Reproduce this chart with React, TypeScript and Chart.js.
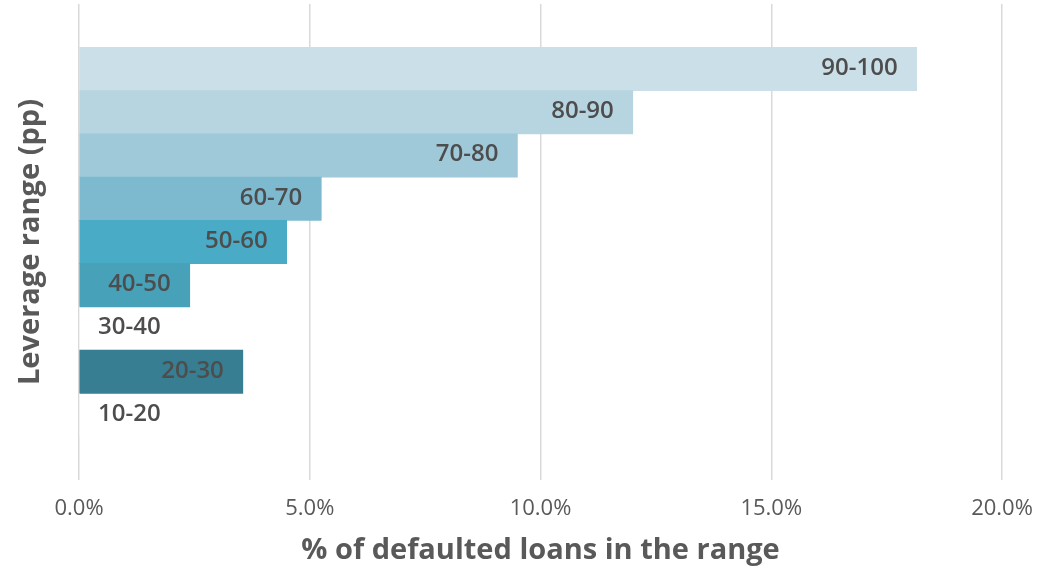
import React, { useEffect, useRef } from "react";
import { Chart, registerables } from "chart.js";

Chart.register(...registerables);

const categories = ["", "90-100", "80-90", "70-80", "60-70", "50-60", "40-50", "30-40", "20-30", "10-20", ""];
const defaultRates = [null, 18.15, 12.0, 9.5, 5.25, 4.5, 2.4, 0, 3.55, 0, null];
const barColors = ["#ffffff", "#cadfe7", "#b6d5e0", "#9fc8d8", "#7dbad0", "#4aabc6", "#46a1b9", "#ffffff", "#377e92", "#ffffff", "#ffffff"];
const xTicks = [0, 5, 10, 15, 20];
const xTitle = "% of defaulted loans in the range";
const yTitle = "Leverage range (pp)";

const FONT = "'Open Sans', 'Noto Sans', sans-serif";

const barLabelPlugin = {
  id: "barLabels",
  afterDatasetsDraw(chart: any) {
    const ctx = chart.ctx;
    const meta = chart.getDatasetMeta(0);
    const xScale = chart.scales.x;
    const base = xScale.getPixelForValue(0);
    ctx.save();
    ctx.font = `600 24px ${FONT}`;
    ctx.fillStyle = "#4d4d4d";
    ctx.textBaseline = "middle";
    meta.data.forEach((bar: any, i: number) => {
      const label = categories[i];
      const v = defaultRates[i];
      if (!label || v === null) return;
      const y = bar.y - 1;
      if (v > 0) {
        ctx.textAlign = "right";
        ctx.fillText(label, bar.x - 19, y);
      } else {
        ctx.textAlign = "left";
        ctx.fillText(label, base + 19, y);
      }
    });
    ctx.restore();
  },
};

export default function App() {
  const canvasRef = useRef<HTMLCanvasElement>(null);

  useEffect(() => {
    document.body.style.margin = "0";
    const canvas = canvasRef.current;
    if (!canvas) return;
    const chart = new Chart(canvas, {
      type: "bar",
      data: {
        labels: categories,
        datasets: [
          {
            data: defaultRates as any,
            backgroundColor: barColors,
            borderWidth: 0,
            categoryPercentage: 1,
            barPercentage: 1,
          },
        ],
      },
      options: {
        indexAxis: "y",
        animation: false,
        responsive: true,
        maintainAspectRatio: false,
        layout: { padding: { top: 4, right: 36, left: 0, bottom: 0 } },
        plugins: {
          legend: { display: false },
          tooltip: { enabled: false },
        },
        scales: {
          x: {
            min: 0,
            max: 20,
            afterFit: (s: any) => {
              s.height = 98;
            },
            afterBuildTicks: (s: any) => {
              s.ticks = xTicks.map((v) => ({ value: v }));
            },
            ticks: {
              padding: 0,
              color: "#595959",
              font: { family: FONT, size: 22, lineHeight: 2.59 },
              callback: (v: any) => Number(v).toFixed(1) + "%",
            },
            grid: { color: "#d9d9d9", lineWidth: 1.5, drawTicks: false },
            border: { display: false },
            title: {
              display: true,
              text: xTitle,
              color: "#595959",
              font: { family: FONT, size: 29, weight: "bold" },
              padding: { top: 0, bottom: 10 },
            },
          },
          y: {
            afterFit: (s: any) => {
              s.width = 79;
            },
            ticks: { display: false },
            grid: { display: false },
            border: { display: false },
            title: {
              display: true,
              text: yTitle,
              color: "#595959",
              font: { family: FONT, size: 29, weight: "bold" },
              padding: { top: 13, bottom: 0 },
            },
          },
        },
      },
      plugins: [barLabelPlugin],
    });
    return () => chart.destroy();
  }, []);

  return (
    <div style={{ position: "relative", width: 1038, height: 578 }}>
      <canvas ref={canvasRef} />
    </div>
  );
}
